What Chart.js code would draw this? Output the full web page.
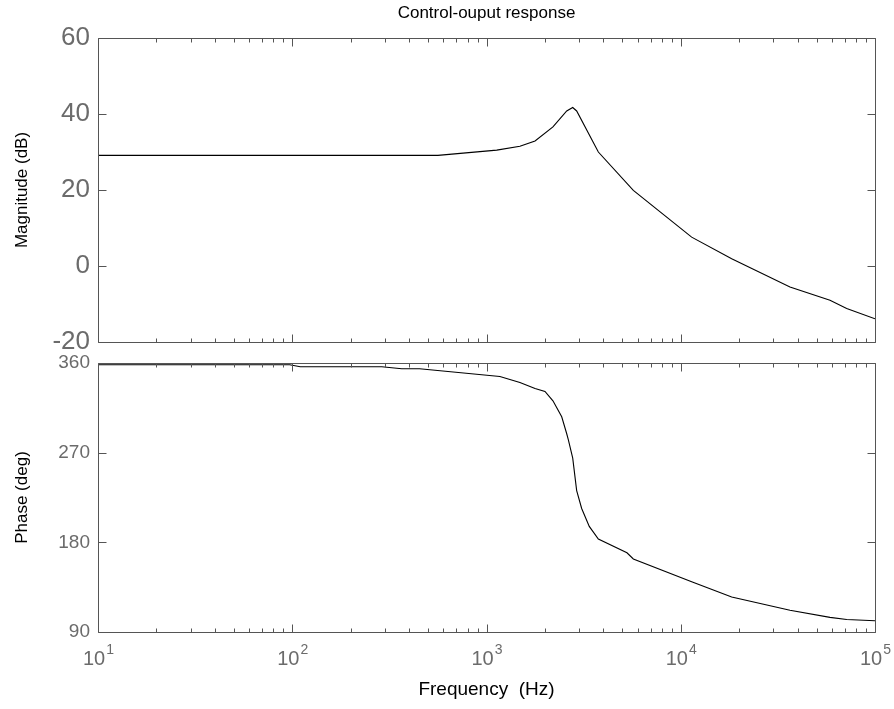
<!DOCTYPE html>
<html>
<head>
<meta charset="utf-8">
<title>Control-ouput response</title>
<script src="https://cdn.jsdelivr.net/npm/chart.js@4"></script>
<style>
    html, body { margin: 0; padding: 0; background: #fff; }
    #wrap { position: relative; width: 894px; height: 709px; }
    #wrap canvas { position: absolute; left: 0; top: 0; }
</style>
</head>
<body>
<div id="wrap">
    <canvas id="magChart" width="894" height="709"></canvas>
    <canvas id="phaseChart" width="894" height="709"></canvas>
</div>
<script>
// ===== BODE DATA =====
// magnitude curve (Hz, dB)
var magFreq = [10, 562, 1129, 1486, 1778, 2198, 2588, 2779, 2912, 3765, 5700, 11380, 18290, 36500, 58650, 71500, 100000];
var magDb   = [29.1, 29.1, 30.5, 31.5, 32.9, 36.6, 40.8, 41.7, 40.8, 30.0, 19.9, 7.6, 1.9, -5.5, -9.0, -11.2, -13.9];

// phase curve (Hz, deg)
var phaseFreq = [10, 97, 110, 289, 366, 452, 1172, 1486, 1778, 2000, 2198, 2439, 2588, 2637, 2779, 2912, 3090, 3381, 3765, 5285, 5700, 11380, 18290, 36500, 58650, 71500, 100000];
var phaseDeg  = [358.3, 358.3, 356.3, 356.3, 354.3, 354.3, 346.5, 340.5, 334.5, 331.5, 322, 306, 289, 283, 264.5, 232, 214, 196, 183.3, 169.5, 163.3, 140.4, 125.2, 111.8, 104.7, 102.5, 101.3];

// axis ticks
var magTicks = [-20, 0, 20, 40, 60];
var phaseTicks = [90, 180, 270, 360];
var decadeExps = [1, 2, 3, 4, 5];

(function() {
    'use strict';

    var FONT = "'Liberation Sans', Arial, Helvetica, sans-serif";
    var AXIS_GREY = '#555555';
    var LABEL_GREY = '#6b6b6b';

    Chart.defaults.font.family = FONT;

    function toPoints(xs, ys) {
        return xs.map(function(x, i) { return { x: x, y: ys[i] }; });
    }

    // matlab style box with inward ticks, drawn from the chart scales
    var boxPlugin = {
        id: 'matlabBox',
        afterDatasetsDraw: function(chart, args, opts) {
            var ctx = chart.ctx;
            var a = chart.chartArea;
            var xs = chart.scales.x;
            var ys = chart.scales.y;
            var L = Math.round(a.left) + 0.5, R = Math.round(a.right) + 0.5;
            var T = Math.round(a.top) + 0.5, B = Math.round(a.bottom) + 0.5;

            ctx.save();
            ctx.strokeStyle = AXIS_GREY;
            ctx.lineWidth = 1;
            ctx.beginPath();

            // x ticks (decades + minor)
            for (var e = 1; e <= 5; e++) {
                var dec = Math.pow(10, e);
                for (var k = 1; k <= 9; k++) {
                    if (e === 5 && k > 1) break;
                    var px = Math.round(xs.getPixelForValue(dec * k)) + 0.5;
                    var len = k === 1 ? 8 : 4;
                    ctx.moveTo(px, T); ctx.lineTo(px, T + len);
                    ctx.moveTo(px, B); ctx.lineTo(px, B - len);
                }
            }
            // y ticks left and right
            (opts.yTicks || []).forEach(function(v) {
                var py = Math.round(ys.getPixelForValue(v)) + 0.5;
                ctx.moveTo(L, py); ctx.lineTo(L + 8, py);
                ctx.moveTo(R, py); ctx.lineTo(R - 8, py);
            });
            ctx.rect(L, T, R - L, B - T);
            ctx.stroke();

            // 10^n labels under the bottom axis
            if (opts.xLabels) {
                ctx.fillStyle = LABEL_GREY;
                ctx.textBaseline = 'alphabetic';
                ctx.textAlign = 'left';
                decadeExps.forEach(function(n) {
                    var cx = xs.getPixelForValue(Math.pow(10, n));
                    ctx.font = '20px ' + FONT;
                    var wBase = ctx.measureText('10').width;
                    ctx.font = '14px ' + FONT;
                    var wExp = ctx.measureText(String(n)).width;
                    var x0 = cx - (wBase + wExp) / 2;
                    ctx.font = '20px ' + FONT;
                    ctx.fillText('10', x0, 665);
                    ctx.font = '14px ' + FONT;
                    ctx.fillText(String(n), x0 + wBase + 1, 654);
                });
            }
            ctx.restore();
        }
    };

    function lineDataset(xs, ys) {
        return {
            data: toPoints(xs, ys),
            borderColor: '#000000',
            borderWidth: 1.1,
            pointRadius: 0,
            tension: 0,
            fill: false
        };
    }

    function yAxis(min, max, list, size, title) {
        return {
            type: 'linear',
            min: min,
            max: max,
            afterBuildTicks: function(s) {
                s.ticks = list.map(function(v) { return { value: v }; });
            },
            ticks: { color: LABEL_GREY, font: { size: size }, padding: 8 },
            grid: { display: false, drawTicks: false },
            border: { display: false },
            title: {
                display: true,
                text: title,
                color: '#000000',
                font: { size: 17 },
                padding: { top: 12, bottom: 0 }
            },
            afterFit: function(s) { s.width = 98; }
        };
    }

    // ---- top: magnitude ----
    new Chart(document.getElementById('magChart').getContext('2d'), {
        type: 'line',
        data: { datasets: [lineDataset(magFreq, magDb)] },
        options: {
            responsive: false,
            animation: false,
            events: [],
            layout: { padding: { left: 0, right: 19, top: 0, bottom: 367 } },
            plugins: {
                legend: { display: false },
                tooltip: { enabled: false },
                matlabBox: { yTicks: magTicks, xLabels: false }
            },
            scales: {
                x: {
                    type: 'logarithmic',
                    position: 'top',
                    min: 10,
                    max: 100000,
                    ticks: { display: false },
                    grid: { display: false, drawTicks: false },
                    border: { display: false },
                    title: {
                        display: true,
                        text: 'Control-ouput response',
                        color: '#000000',
                        font: { size: 17 },
                        padding: { top: 3, bottom: 0 }
                    },
                    afterFit: function(s) { s.height = 38; }
                },
                y: yAxis(-20, 60, magTicks, 26, 'Magnitude (dB)')
            }
        },
        plugins: [boxPlugin]
    });

    // ---- bottom: phase ----
    new Chart(document.getElementById('phaseChart').getContext('2d'), {
        type: 'line',
        data: { datasets: [lineDataset(phaseFreq, phaseDeg)] },
        options: {
            responsive: false,
            animation: false,
            events: [],
            layout: { padding: { left: 0, right: 19, top: 363, bottom: 0 } },
            plugins: {
                legend: { display: false },
                tooltip: { enabled: false },
                matlabBox: { yTicks: phaseTicks, xLabels: true }
            },
            scales: {
                x: {
                    type: 'logarithmic',
                    position: 'bottom',
                    min: 10,
                    max: 100000,
                    ticks: { display: false },
                    grid: { display: false, drawTicks: false },
                    border: { display: false },
                    title: {
                        display: true,
                        text: 'Frequency  (Hz)',
                        color: '#000000',
                        font: { size: 19 },
                        padding: { top: 0, bottom: 8 }
                    },
                    afterFit: function(s) { s.height = 77; }
                },
                y: yAxis(90, 360, phaseTicks, 19, 'Phase (deg)')
            }
        },
        plugins: [boxPlugin]
    });
})();
</script>
</body>
</html>
